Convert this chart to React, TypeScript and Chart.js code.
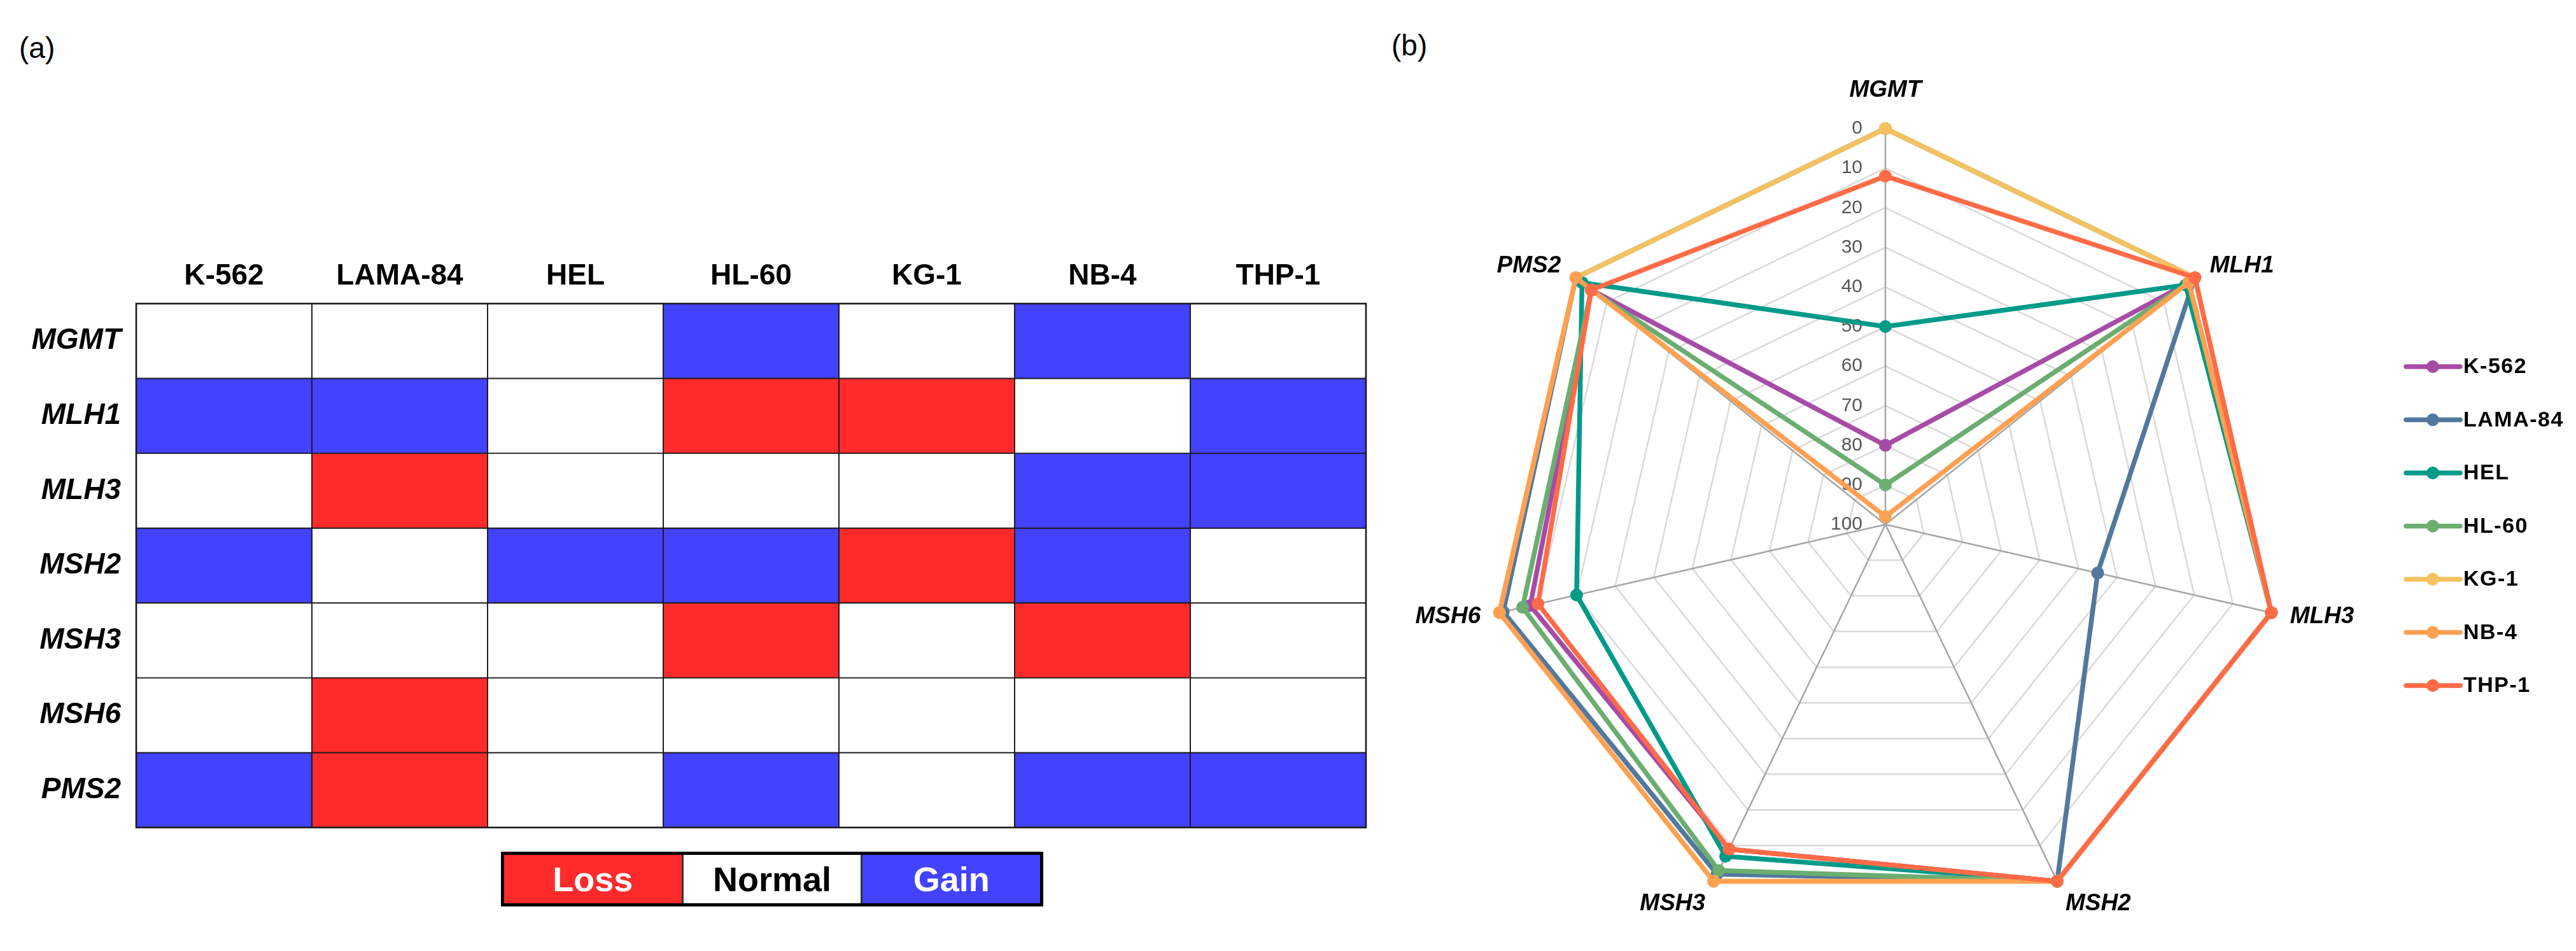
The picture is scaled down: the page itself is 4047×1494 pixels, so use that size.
import React, { useEffect, useRef } from "react";
import { Chart, registerables } from "chart.js";

Chart.register(...registerables);

// ---------- shared categories ----------
const cellLines = ["K-562", "LAMA-84", "HEL", "HL-60", "KG-1", "NB-4", "THP-1"];
const genes = ["MGMT", "MLH1", "MLH3", "MSH2", "MSH3", "MSH6", "PMS2"];

// ---------- (a) copy-number status per gene, across cellLines (-1 loss, 0 normal, 1 gain) ----------
const statusMGMT = [0, 0, 0, 1, 0, 1, 0];
const statusMLH1 = [1, 1, 0, -1, -1, 0, 1];
const statusMLH3 = [0, -1, 0, 0, 0, 1, 1];
const statusMSH2 = [1, 0, 1, 1, -1, 1, 0];
const statusMSH3 = [0, 0, 0, -1, 0, -1, 0];
const statusMSH6 = [0, -1, 0, 0, 0, 0, 0];
const statusPMS2 = [1, -1, 0, 1, 0, 1, 1];
const statusRows = [statusMGMT, statusMLH1, statusMLH3, statusMSH2, statusMSH3, statusMSH6, statusPMS2];
const statusLabels = ["Loss", "Normal", "Gain"];
const statusColors = ["#FF2B2B", "#FFFFFF", "#4242FF"];
const statusTextColors = ["#FFFFFF", "#000000", "#FFFFFF"];

// ---------- (b) radar values per cell line, in genes order (0 = outer ring, 100 = centre) ----------
const valuesK562 = [80, 2, 0, 0, 9, 8, 5];
const valuesLAMA84 = [0, 0, 45, 0, 2, 1, 0];
const valuesHEL = [50, 3, 0, 0, 7, 20, 2];
const valuesHL60 = [90, 2, 0, 0, 3, 6, 5];
const valuesKG1 = [0, 0, 0, 0, 0, 0, 0];
const valuesNB4 = [98, 2, 0, 0, 0, 0, 0];
const valuesTHP1 = [12, 0, 0, 0, 9, 10, 5];
const radarSeries = [valuesK562, valuesLAMA84, valuesHEL, valuesHL60, valuesKG1, valuesNB4, valuesTHP1];
const radarTicks = [0, 10, 20, 30, 40, 50, 60, 70, 80, 90, 100];
const seriesColors = ["#A64CA6", "#52789E", "#009A88", "#6BAE70", "#F4C25E", "#FFA052", "#FF6B47"];

const FONT = "'Liberation Sans', Arial, Helvetica, sans-serif";

const heatLabels = {
  id: "heatLabels",
  afterDraw(chart: any) {
    const { ctx, chartArea, scales } = chart;
    const xs = scales.x;
    const ys = scales.y;
    ctx.save();
    ctx.strokeStyle = "#1a1a1a";
    ctx.lineWidth = 2.6;
    ctx.strokeRect(chartArea.left, chartArea.top, chartArea.right - chartArea.left, chartArea.bottom - chartArea.top);
    ctx.fillStyle = "#000";
    ctx.font = `bold 46px ${FONT}`;
    ctx.textAlign = "center";
    ctx.textBaseline = "middle";
    cellLines.forEach((c, i) => ctx.fillText(c, xs.getPixelForValue(i), chartArea.top - 43));
    ctx.font = `italic bold 46px ${FONT}`;
    ctx.textAlign = "right";
    genes.forEach((g, r) => ctx.fillText(g, chartArea.left - 24, ys.getPixelForValue(r + 0.5)));
    ctx.restore();
  },
};

const radarDecor = {
  id: "radarDecor",
  beforeDatasetsDraw(chart: any) {
    const { ctx } = chart;
    const r = chart.scales.r;
    ctx.save();
    ctx.strokeStyle = "#D9D9D9";
    ctx.lineWidth = 2.5;
    ctx.beginPath();
    genes.forEach((_, i) => {
      const p = r.getPointPositionForValue(i, 0);
      if (i === 0) ctx.moveTo(p.x, p.y);
      else ctx.lineTo(p.x, p.y);
    });
    ctx.closePath();
    ctx.stroke();
    ctx.font = `30px ${FONT}`;
    ctx.fillStyle = "#595959";
    ctx.textAlign = "right";
    ctx.textBaseline = "middle";
    radarTicks.forEach((v) => {
      const p = r.getPointPositionForValue(0, v);
      ctx.fillText(String(v), p.x - 36, p.y);
    });
    ctx.restore();
  },
  afterDraw(chart: any) {
    const { ctx, chartArea } = chart;
    const r = chart.scales.r;
    ctx.save();
    ctx.font = `italic bold 37px ${FONT}`;
    ctx.fillStyle = "#000";
    const dist = r.drawingArea + 30;
    genes.forEach((g, i) => {
      const p = r.getPointPosition(i, dist);
      const dx = p.x - r.xCenter;
      const dy = p.y - r.yCenter;
      ctx.textAlign = Math.abs(dx) < 1 ? "center" : dx > 0 ? "left" : "right";
      let y = p.y;
      if (dy < -0.9 * dist) {
        ctx.textBaseline = "bottom";
        y -= 12;
      } else if (dy > 0.5 * dist) {
        ctx.textBaseline = "top";
        y -= 10;
      } else {
        ctx.textBaseline = "middle";
      }
      ctx.fillText(g, p.x, y);
    });
    const x0 = chartArea.right + 196;
    const y0 = 576;
    const step = 83.5;
    ctx.font = `bold 34px ${FONT}`;
    ctx.textAlign = "left";
    ctx.textBaseline = "middle";
    try { (ctx as any).letterSpacing = "1.5px"; } catch (e) {}
    cellLines.forEach((name, i) => {
      const y = y0 + i * step;
      ctx.strokeStyle = seriesColors[i];
      ctx.lineWidth = 7.5;
      ctx.lineCap = "round";
      ctx.beginPath();
      ctx.moveTo(x0, y);
      ctx.lineTo(x0 + 85, y);
      ctx.stroke();
      ctx.fillStyle = seriesColors[i];
      ctx.beginPath();
      ctx.arc(x0 + 42, y, 10, 0, Math.PI * 2);
      ctx.fill();
      ctx.fillStyle = "#000";
      ctx.fillText(name, x0 + 90, y + 1);
    });
    ctx.restore();
  },
};

function Heatmap() {
  const ref = useRef<HTMLCanvasElement>(null);
  useEffect(() => {
    const chart = new Chart(ref.current as HTMLCanvasElement, {
      type: "bar",
      data: {
        labels: cellLines,
        datasets: statusRows.map((row, r) => ({
          label: genes[r],
          data: row.map(() => 1),
          backgroundColor: row.map((s) => statusColors[s + 1]),
          borderColor: "#1a1a1a",
          borderWidth: 1.3,
          borderSkipped: false,
          barPercentage: 1,
          categoryPercentage: 1,
          stack: "genes",
        })),
      },
      options: {
        animation: false,
        responsive: false,
        devicePixelRatio: 1,
        layout: { padding: { left: 214, right: 14, top: 477, bottom: 194 } },
        plugins: { legend: { display: false }, tooltip: { enabled: false } },
        scales: {
          x: { display: false, stacked: true },
          y: { display: false, stacked: true, min: 0, max: 7, reverse: true },
        },
      } as any,
      plugins: [heatLabels],
    });
    return () => chart.destroy();
  }, []);
  return (
    <canvas
      ref={ref}
      width={2160}
      height={1494}
      style={{ position: "absolute", left: 0, top: 0, width: 2160, height: 1494 }}
    />
  );
}

function Radar() {
  const ref = useRef<HTMLCanvasElement>(null);
  useEffect(() => {
    const chart = new Chart(ref.current as HTMLCanvasElement, {
      type: "radar",
      data: {
        labels: genes,
        datasets: radarSeries.map((vals, i) => ({
          label: cellLines[i],
          data: vals,
          borderColor: seriesColors[i],
          backgroundColor: seriesColors[i],
          pointBackgroundColor: seriesColors[i],
          pointBorderColor: seriesColors[i],
          pointRadius: 10,
          pointBorderWidth: 0,
          borderWidth: 7.5,
          borderJoinStyle: "round",
          borderCapStyle: "round",
          fill: false,
          tension: 0,
          order: radarSeries.length - 1 - i,
        })),
      },
      options: {
        animation: false,
        responsive: false,
        devicePixelRatio: 1,
        layout: { padding: { left: 180, right: 463, top: 202, bottom: 48 } },
        plugins: { legend: { display: false }, tooltip: { enabled: false } },
        scales: {
          r: {
            min: 0,
            max: 100,
            reverse: true,
            ticks: { display: false, stepSize: 10 },
            pointLabels: { display: false },
            grid: { color: "#D9D9D9", lineWidth: 2.5 },
            angleLines: { color: "#A6A6A6", lineWidth: 2.5 },
          },
        },
      } as any,
      plugins: [radarDecor],
    });
    return () => chart.destroy();
  }, []);
  return (
    <canvas
      ref={ref}
      width={1887}
      height={1494}
      style={{ position: "absolute", left: 2160, top: 0, width: 1887, height: 1494 }}
    />
  );
}

function HeatLegend() {
  return (
    <div
      style={{
        position: "absolute",
        left: 787,
        top: 1338,
        width: 852,
        height: 86,
        border: "5px solid #000",
        boxSizing: "border-box",
        display: "flex",
      }}
    >
      {statusLabels.map((s, i) => (
        <div
          key={s}
          style={{
            flex: 1,
            background: statusColors[i],
            color: statusTextColors[i],
            fontWeight: "bold",
            fontSize: 54,
            fontFamily: FONT,
            display: "flex",
            alignItems: "center",
            justifyContent: "center",
            borderLeft: i > 0 ? "3px solid #333" : "none",
          }}
        >
          {s}
        </div>
      ))}
    </div>
  );
}

export default function App() {
  useEffect(() => {
    document.body.style.margin = "0";
    document.body.style.overflow = "hidden";
  }, []);
  return (
    <div
      style={{
        position: "absolute",
        left: 0,
        top: 0,
        width: 4047,
        height: 1494,
        background: "#fff",
        overflow: "hidden",
        fontFamily: FONT,
      }}
    >
      <div style={{ position: "absolute", left: 30, top: 48, fontSize: 46, lineHeight: "54px" }}>(a)</div>
      <div style={{ position: "absolute", left: 2186, top: 44, fontSize: 46, lineHeight: "54px" }}>(b)</div>
      <Heatmap />
      <HeatLegend />
      <Radar />
    </div>
  );
}
